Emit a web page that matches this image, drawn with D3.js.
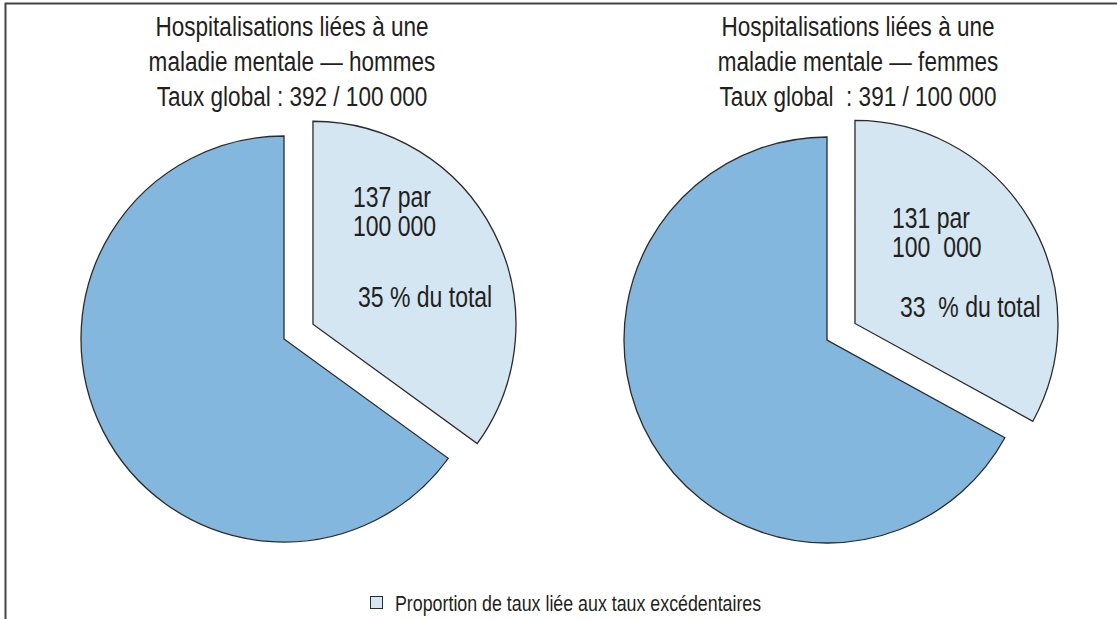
<!DOCTYPE html>
<html lang="fr">
<head>
<meta charset="utf-8">
<script src="https://cdn.jsdelivr.net/npm/d3@7"></script>
<style>
  html, body { margin: 0; padding: 0; background: #fff; }
  svg { display: block; }
  text { font-family: "Liberation Sans", Arial, Helvetica, sans-serif; fill: #231f20; white-space: pre; }
</style>
</head>
<body>
<svg id="chart" width="1117" height="619"></svg>
<script>
// Hospitalisations liées à une maladie mentale, par sexe
const groups = ["hommes", "femmes"];
const titleLines = [
  ["Hospitalisations liées à une", "maladie mentale — hommes", "Taux global : 392 / 100 000"],
  ["Hospitalisations liées à une", "maladie mentale — femmes", "Taux global  : 391 / 100 000"]
];
const excessLabels = [
  ["137 par", "100 000"],
  ["131 par", "100  000"]
];
const excessPctLabels = ["35 % du total", "33  % du total"];
const excessPct = [35, 33];          // part liée aux taux excédentaires (%)
const legendLabel = "Proportion de taux liée aux taux excédentaires";

const colors = { excess: "#d3e6f2", rest: "#83b7dd", stroke: "#2b2b2b", text: "#231f20" };

// Layout of the two panels
const layout = [
  { cx: 284, cy: 339, titleX: 292, labelX: 353, labelY: 207, pctX: 358, pctY: 307 },
  { cx: 827, cy: 340, titleX: 858, labelX: 892, labelY: 228, pctX: 900, pctY: 317 }
];
const radius = 203;
const explode = 32.5;
// Condensed look: horizontal squeeze applied to the sans face
const squeeze = { title: 0.82, label: 0.78, legend: 0.81 };

const svg = d3.select("#chart");

// Frame: top and left rules
svg.append("path")
  .attr("d", "M5.5,619 V3.5 H1117")
  .attr("fill", "none")
  .attr("stroke", "#444")
  .attr("stroke-width", 2);

const pie = d3.pie().sort(null).startAngle(0).endAngle(2 * Math.PI);
const arc = d3.arc().innerRadius(0).outerRadius(radius);

function condensedText(parent, x, y, s, size, anchor) {
  return parent.append("text")
    .attr("transform", `translate(${x},${y}) scale(${s},1)`)
    .attr("font-size", size)
    .attr("text-anchor", anchor || "start");
}

groups.forEach((g, i) => {
  const L = layout[i];
  const slices = pie([excessPct[i], 100 - excessPct[i]]);
  const panel = svg.append("g").attr("class", "panel-" + g);

  // Title, three centred lines
  titleLines[i].forEach((line, k) => {
    condensedText(panel, L.titleX, 36 + k * 35, squeeze.title, 27.5, "middle").text(line);
  });

  // Slices: the excess slice is pulled out along its mid angle
  panel.selectAll("path.slice")
    .data(slices)
    .join("path")
    .attr("class", "slice")
    .attr("d", arc)
    .attr("transform", (d, k) => {
      if (k !== 0) return `translate(${L.cx},${L.cy})`;
      const mid = (d.startAngle + d.endAngle) / 2;
      const dx = Math.sin(mid) * explode, dy = -Math.cos(mid) * explode;
      return `translate(${L.cx + dx},${L.cy + dy})`;
    })
    .attr("fill", (d, k) => k === 0 ? colors.excess : colors.rest)
    .attr("stroke", colors.stroke)
    .attr("stroke-width", 1.3)
    .attr("stroke-linejoin", "miter");

  // Labels inside the excess slice
  excessLabels[i].forEach((line, k) => {
    condensedText(panel, L.labelX, L.labelY + k * 28.5, squeeze.label, 29.5).text(line);
  });
  condensedText(panel, L.pctX, L.pctY, squeeze.label, 29.5).text(excessPctLabels[i]);
});

// Legend
const legend = svg.append("g").attr("class", "legend");
legend.append("rect")
  .attr("x", 370.5).attr("y", 596.5)
  .attr("width", 12).attr("height", 12)
  .attr("fill", colors.excess)
  .attr("stroke", colors.stroke)
  .attr("stroke-width", 1);
condensedText(legend, 395, 611, squeeze.legend, 22).text(legendLabel);
</script>
</body>
</html>
